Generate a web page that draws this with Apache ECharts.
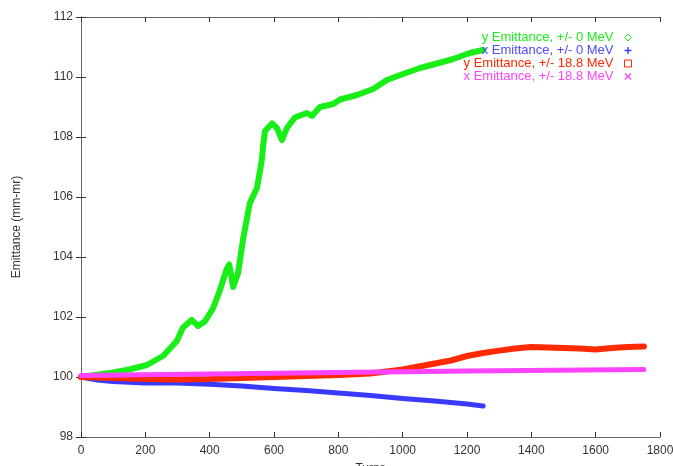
<!DOCTYPE html>
<html>
<head>
<meta charset="utf-8">
<script src="https://cdn.jsdelivr.net/npm/echarts@6/dist/echarts.min.js"></script>
<style>html,body{margin:0;padding:0;background:#fff}#c{width:673px;height:466px}</style>
</head>
<body>
<div id="c"></div>
<script>
const seriesNames = ['y Emittance, +/- 0 MeV','x Emittance, +/- 0 MeV','y Emittance, +/- 18.8 MeV','x Emittance, +/- 18.8 MeV'];

const turnsYEmit0 = [0,50,100,150,205,255,298,317,344,364,385,411,432,453,461,473,488,504,525,547,557,563,566,572,594,609,625,640,665,702,718,743,784,805,858,908,951,1001,1054,1107,1157,1209,1250];
const valsYEmit0  = [100.0,100.08,100.15,100.25,100.4,100.7,101.2,101.65,101.9,101.7,101.85,102.3,102.9,103.6,103.75,103.0,103.45,104.6,105.8,106.3,106.9,107.3,107.7,108.2,108.45,108.3,107.9,108.3,108.65,108.8,108.7,109.0,109.1,109.25,109.4,109.6,109.9,110.1,110.3,110.45,110.6,110.8,110.9];

const turnsXEmit0 = [0,50,100,200,300,400,500,600,700,800,900,1000,1100,1200,1250];
const valsXEmit0  = [100.0,99.9,99.85,99.8,99.8,99.76,99.7,99.62,99.55,99.47,99.38,99.28,99.2,99.1,99.03];

const turnsYEmit188 = [0,100,200,300,400,500,600,700,800,900,950,1000,1050,1100,1150,1200,1250,1300,1350,1400,1450,1500,1550,1600,1650,1700,1750];
const valsYEmit188  = [100.0,99.97,99.93,99.92,99.93,99.97,100.0,100.03,100.07,100.12,100.18,100.25,100.35,100.45,100.55,100.7,100.8,100.88,100.95,101.0,100.98,100.97,100.95,100.92,100.97,101.0,101.02];

const turnsXEmit188 = [0,400,800,1200,1750];
const valsXEmit188  = [100.05,100.1,100.15,100.2,100.25];

const xTickMin = 0, xTickMax = 1800, xTickStep = 200;
const yTickMin = 98, yTickMax = 112, yTickStep = 2;

const colors = ['#19ee19','#3a3aff','#ff2a00','#ff44ff'];
const pairs = (xs, ys) => xs.map((x, i) => [x, ys[i]]);

const plusIcon = 'path://M4,0H6V4H10V6H6V10H4V6H0V4H4Z';
const crossIcon = 'path://M1.4,0L5,3.6L8.6,0L10,1.4L6.4,5L10,8.6L8.6,10L5,6.4L1.4,10L0,8.6L3.6,5L0,1.4Z';

const chart = echarts.init(document.getElementById('c'), null, {renderer:'canvas'});
const font = 'Liberation Sans, Arial, Helvetica, sans-serif';
const axisCol = '#666';
const plain = v => String(v);

const mkSeries = (name, xs, ys, color, width) => ({
  name: name, type: 'line', data: pairs(xs, ys), showSymbol: false, symbol: 'none',
  lineStyle: {color: color, width: width, cap: 'round', join: 'round'},
  itemStyle: {color: color}, animation: false, clip: false
});

chart.setOption({
  animation: false,
  textStyle: {fontFamily: font},
  grid: {left: 81, right: 13, top: 17, bottom: 29, containLabel: false, outerBoundsMode: 'none'},
  legend: {
    orient: 'vertical', right: 41, top: 31, align: 'right',
    itemWidth: 7, itemHeight: 7, itemGap: 0, padding: 0,
    textStyle: {fontSize: 13, lineHeight: 12.5, fontFamily: font, padding: [0, 6, 0, 0]},
    data: [
      {name: seriesNames[0], icon: 'diamond', itemStyle: {color: 'transparent', borderColor: colors[0], borderWidth: 1}, textStyle: {color: colors[0]}},
      {name: seriesNames[1], icon: plusIcon, itemStyle: {color: colors[1], borderWidth: 0}, textStyle: {color: '#4a4aff'}},
      {name: seriesNames[2], icon: 'rect', itemStyle: {color: 'transparent', borderColor: colors[2], borderWidth: 1}, textStyle: {color: colors[2]}},
      {name: seriesNames[3], icon: crossIcon, itemStyle: {color: colors[3], borderWidth: 0}, textStyle: {color: colors[3]}}
    ]
  },
  xAxis: [
    {type: 'value', min: xTickMin, max: xTickMax, interval: xTickStep, position: 'bottom',
     name: 'Turns', nameLocation: 'middle', nameGap: 26,
     nameTextStyle: {fontSize: 12, color: '#333'},
     axisLine: {show: true, lineStyle: {color: axisCol, width: 1}},
     axisTick: {show: true, inside: true, length: 5, lineStyle: {color: '#333'}},
     axisLabel: {fontSize: 12, color: '#333', margin: 8, formatter: plain},
     splitLine: {show: false}},
    {type: 'value', min: xTickMin, max: xTickMax, interval: xTickStep, position: 'top',
     axisLine: {show: true, lineStyle: {color: axisCol, width: 1}},
     axisTick: {show: true, inside: true, length: 5, lineStyle: {color: '#333'}},
     axisLabel: {show: false}, splitLine: {show: false}}
  ],
  yAxis: [
    {type: 'value', min: yTickMin, max: yTickMax, interval: yTickStep, position: 'left',
     name: 'Emittance (mm-mr)', nameLocation: 'middle', nameGap: 58, nameRotate: 90,
     nameTextStyle: {fontSize: 12, color: '#333'},
     axisLine: {show: true, lineStyle: {color: axisCol, width: 1}},
     axisTick: {show: true, inside: true, length: 5, lineStyle: {color: '#333'}},
     axisLabel: {fontSize: 12, color: '#333', margin: 8, formatter: plain},
     splitLine: {show: false}},
    {type: 'value', min: yTickMin, max: yTickMax, interval: yTickStep, position: 'right',
     axisLine: {show: true, lineStyle: {color: axisCol, width: 1}},
     axisTick: {show: true, inside: true, length: 5, lineStyle: {color: '#333'}},
     axisLabel: {show: false}, splitLine: {show: false}}
  ],
  series: [
    mkSeries(seriesNames[0], turnsYEmit0, valsYEmit0, colors[0], 6),
    mkSeries(seriesNames[1], turnsXEmit0, valsXEmit0, colors[1], 5),
    mkSeries(seriesNames[2], turnsYEmit188, valsYEmit188, colors[2], 6),
    mkSeries(seriesNames[3], turnsXEmit188, valsXEmit188, colors[3], 5)
  ]
});
</script>
</body>
</html>
